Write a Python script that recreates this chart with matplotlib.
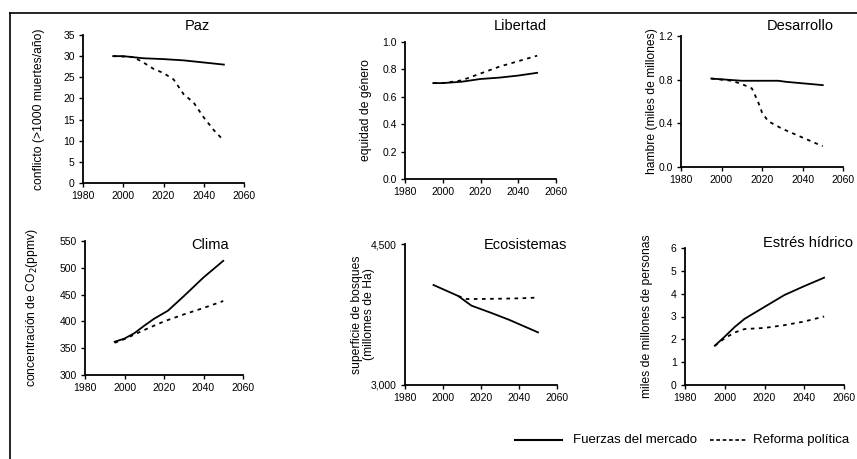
import matplotlib
matplotlib.use("Agg")
import matplotlib.pyplot as plt
from matplotlib.lines import Line2D

plt.rcParams['font.family'] = ['Liberation Sans', 'DejaVu Sans']

# Paz
paz_years_m = [1995, 2000, 2010, 2020, 2030, 2040, 2050]
paz_mercado = [30, 30, 29.5, 29.3, 29, 28.5, 28]
paz_years_r = [1995, 2005, 2010, 2015, 2020, 2025, 2030, 2035, 2040, 2045, 2050]
paz_reforma = [30, 29.8, 28.5, 27, 26, 24.5, 21, 19, 15.5, 12.5, 10]

# Libertad
lib_years = [1995, 2000, 2010, 2020, 2030, 2040, 2050]
lib_mercado = [0.70, 0.70, 0.71, 0.73, 0.74, 0.755, 0.775]
lib_reforma = [0.70, 0.70, 0.72, 0.77, 0.82, 0.86, 0.90]

# Desarrollo
des_years_m = [1995, 2010, 2020, 2028, 2032, 2050]
des_mercado = [0.81, 0.79, 0.79, 0.79, 0.78, 0.75]
des_years_r = [1995, 2005, 2010, 2015, 2018, 2020, 2023, 2030, 2040, 2050]
des_reforma = [0.81, 0.79, 0.76, 0.72, 0.60, 0.50, 0.42, 0.35, 0.27, 0.19]

# Clima
cli_years_m = [1995, 2000, 2005, 2010, 2015, 2022, 2030, 2040, 2050]
cli_mercado = [362, 368, 378, 392, 405, 420, 447, 482, 513]
cli_years_r = [1995, 2000, 2010, 2020, 2030, 2040, 2050]
cli_reforma = [360, 367, 384, 400, 413, 425, 438]

# Ecosistemas
eco_years_m = [1995, 2008, 2015, 2025, 2035, 2050]
eco_mercado = [4064, 3947, 3844, 3770, 3692, 3560]
eco_years_r = [2008, 2012, 2020, 2030, 2040, 2050]
eco_reforma = [3947, 3915, 3915, 3918, 3922, 3930]

# Estres hidrico
agua_years = [1995, 2000, 2005, 2010, 2020, 2030, 2040, 2050]
agua_mercado = [1.72, 2.12, 2.54, 2.9, 3.42, 3.94, 4.33, 4.70]
agua_reforma = [1.72, 2.05, 2.30, 2.45, 2.50, 2.62, 2.78, 3.00]

W, H = 857, 459


def px_axes(fig, x0, x1, ytop, ybot):
    return fig.add_axes([x0 / W, 1 - ybot / H, (x1 - x0) / W, (ybot - ytop) / H])


def style(ax, ylim, yticks, yticklabels, ylabel, ylabel_x, title, title_xy,
          title_ha='center'):
    ax.set_xlim(1980, 2060)
    ax.set_ylim(*ylim)
    ax.set_xticks([1980, 2000, 2020, 2040, 2060])
    ax.set_yticks(yticks)
    ax.set_yticklabels(yticklabels)
    for s in ['top', 'right']:
        ax.spines[s].set_visible(False)
    for s in ['left', 'bottom']:
        ax.spines[s].set_linewidth(1.3)
    ax.tick_params(direction='out', length=3, width=1, labelsize=7.5, pad=3)
    pos = ax.get_position()
    fig.text(ylabel_x / W, pos.y0 + pos.height / 2, ylabel, fontsize=8.7,
             rotation=90, ha='center', va='center', linespacing=1.0)
    fig.text(title_xy[0] / W, 1 - title_xy[1] / H, title, fontsize=10.5,
             ha=title_ha, va='center')


fig = plt.figure(figsize=(8.57, 4.59), dpi=100)

solid = dict(color='black', lw=1.3)
dotted = dict(color='black', lw=1.3, ls=(0, (2, 2.5)))

ax = px_axes(fig, 83, 244, 35, 183)
ax.plot(paz_years_m, paz_mercado, **solid)
ax.plot(paz_years_r, paz_reforma, **dotted)
style(ax, (0, 35), range(0, 36, 5), [str(v) for v in range(0, 36, 5)],
      'conflicto (>1000 muertes/año)', 39, 'Paz', (197, 26))

ax = px_axes(fig, 405, 556, 42, 179)
ax.plot(lib_years, lib_mercado, **solid)
ax.plot(lib_years, lib_reforma, **dotted)
style(ax, (0, 1.0), [0, 0.2, 0.4, 0.6, 0.8, 1.0],
      ['0.0', '0.2', '0.4', '0.6', '0.8', '1.0'],
      'equidad de género', 366, 'Libertad', (520, 26))

ax = px_axes(fig, 681, 843, 36, 167)
ax.plot(des_years_m, des_mercado, **solid)
ax.plot(des_years_r, des_reforma, **dotted)
style(ax, (0, 1.2), [0, 0.4, 0.8, 1.2], ['0.0', '0.4', '0.8', '1.2'],
      'hambre (miles de millones)', 652, 'Desarrollo', (800, 26))

ax = px_axes(fig, 85, 243, 241, 375)
ax.plot(cli_years_m, cli_mercado, **solid)
ax.plot(cli_years_r, cli_reforma, **dotted)
style(ax, (300, 550), range(300, 551, 50), [str(v) for v in range(300, 551, 50)],
      'concentración de CO$_2$(ppmv)', 32, 'Clima', (210, 245))

ax = px_axes(fig, 405, 557, 244, 385)
ax.plot(eco_years_m, eco_mercado, **solid)
ax.plot(eco_years_r, eco_reforma, **dotted)
style(ax, (3000, 4500), [3000, 4500], ['3,000', '4,500'],
      'superficie de bosques\n(millomes de Ha)', 363, 'Ecosistemas', (525, 245))

ax = px_axes(fig, 685, 844, 248, 385)
ax.plot(agua_years, agua_mercado, **solid)
ax.plot(agua_years, agua_reforma, **dotted)
style(ax, (0, 6), range(0, 7), [str(v) for v in range(0, 7)],
      'miles de millones de personas', 647, 'Estrés hídrico', (853, 243),
      title_ha='right')

# frame lines (top and left)
fig.add_artist(Line2D([10 / W, 1], [1 - 13 / H, 1 - 13 / H], color='black', lw=1.2))
fig.add_artist(Line2D([10 / W, 10 / W], [0, 1 - 13 / H], color='black', lw=1.2))

# legend
ly = 1 - 440 / H
fig.add_artist(Line2D([515 / W, 562 / W], [ly, ly], color='black', lw=1.5))
fig.text(573 / W, ly, 'Fuerzas del mercado', fontsize=9.5, va='center', ha='left')
fig.add_artist(Line2D([710 / W, 746 / W], [ly, ly], color='black', lw=1.2,
                      ls=(0, (2.2, 1.6))))
fig.text(753 / W, ly, 'Reforma política', fontsize=9.5, va='center', ha='left')

fig.savefig('out.png', dpi=100)
